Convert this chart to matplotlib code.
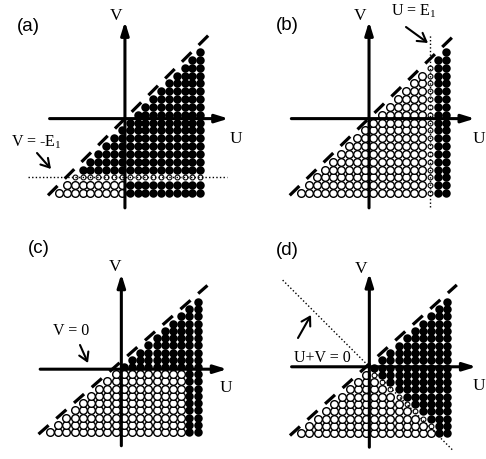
import numpy as np
import matplotlib
matplotlib.use("Agg")
import matplotlib.pyplot as plt

plt.rcParams['mathtext.fontset'] = 'custom'
plt.rcParams['mathtext.rm'] = 'Liberation Serif'
plt.rcParams['mathtext.it'] = 'Liberation Serif'

# lattice of states (column index i = U, row index j = V), kept where V <= U
n_sites = 19
row_minus_E1 = 2     # V = -E1 in panel (a)
col_E1 = 16          # U = E1 in panels (b), (c), (d)
row_zero = 9         # first row above V = 0 in panel (c)
diag_sum = 17        # U + V = 0 in panel (d)

panel_labels = ['(a)', '(b)', '(c)', '(d)']
line_labels = ['V = -E$_1$', 'U = E$_1$', 'V = 0', 'U+V = 0']

W, H = 486, 459
fig = plt.figure(figsize=(W / 100, H / 100), dpi=100)

# pixel geometry of each panel: box, lattice origin / spacing, axis crossing
geom = [
    dict(box=(0, 0, 243, 230), x0=59, dx=7.85, y0=193, dy=7.83, cx=8.4, cy=9.5),
    dict(box=(243, 0, 243, 230), x0=301, dx=8.05, y0=193, dy=7.83, cx=8.45, cy=9.5),
    dict(box=(0, 230, 243, 229), x0=50, dx=8.2, y0=432, dy=7.22, cx=8.7, cy=8.7),
    dict(box=(243, 230, 243, 229), x0=301.3, dx=8.1, y0=433.3, dy=7.31, cx=8.4, cy=9.1),
]

ii, jj = np.meshgrid(np.arange(n_sites), np.arange(n_sites))
keep = jj <= ii
ii, jj = ii[keep], jj[keep]

# 2 = filled, 1 = empty, 0 = on the dotted line
states = []
s = np.where((jj > row_minus_E1) | (ii > 8), 2, 1)
s[jj == row_minus_E1] = 0
states.append(s)
s = np.where(ii > col_E1, 2, 1)
s[ii == col_E1] = 0
states.append(s)
s = np.where((jj >= row_zero) | (ii > col_E1), 2, 1)
states.append(s)
s = np.where((ii + jj > diag_sum) | (ii > col_E1), 2, 1)
s[(ii + jj == diag_sum) & (ii <= col_E1)] = 0
states.append(s)

serif = dict(family='Liberation Serif', fontsize=12.5)
eqfont = dict(family='Liberation Serif', fontsize=11.5)
sans = dict(family='Liberation Sans', fontsize=13.5)

# text / arrow positions in pixels
texts = [
    dict(lab=(17, 26.5), V=(116, 20), U=(236, 143), eq=(11, 147), arr=((37, 153), (51, 169))),
    dict(lab=(276, 26), V=(360, 20), U=(479, 143), eq=(391, 16), arr=((406, 27), (428, 43))),
    dict(lab=(28, 248.5), V=(115, 271), U=(226, 392), eq=(53, 335), arr=((80, 345), (88, 363))),
    dict(lab=(276, 250.5), V=(361, 273), U=(479, 390), eq=(294, 362), arr=((298, 338), (311, 315))),
]

for k, g in enumerate(geom):
    L, T, w, h = g['box']
    ax = fig.add_axes([L / W, 1 - (T + h) / H, w / W, h / H])
    ax.set_xlim((L - g['x0']) / g['dx'], (L + w - g['x0']) / g['dx'])
    ax.set_ylim((g['y0'] - (T + h)) / g['dy'], (g['y0'] - T) / g['dy'])
    ax.axis('off')

    def px(p):
        return ((p[0] - g['x0']) / g['dx'], (g['y0'] - p[1]) / g['dy'])

    st = states[k]
    ax.plot(ii[st == 2], jj[st == 2], 'o', ms=6.1, color='k', mew=0, zorder=2)
    ax.plot(ii[st == 1], jj[st == 1], 'o', ms=5.5, mfc='white', mec='k', mew=1.0, zorder=2)
    ax.plot(ii[st == 0], jj[st == 0], 'o', ms=3.5, mfc='white', mec='k', mew=0.8, zorder=3)

    # dashed boundary along the diagonal
    t = np.array([-1.4, 19.2])
    ax.plot(t, t + 1.1, color='k', lw=2.3, ls=(0, (4.2, 3.2)), dash_capstyle='butt', zorder=3)

    # axes with arrows
    cx, cy = g['cx'], g['cy']
    ap = dict(arrowstyle='-|>,head_length=0.55,head_width=0.17', lw=2.2, color='k',
              shrinkA=0, shrinkB=0, mutation_scale=14)
    ax.annotate('', xy=(21.6, cy), xytext=(-1.2, cy), arrowprops=ap, zorder=4)
    ax.annotate('', xy=(cx, 21.9), xytext=(cx, -1.9), arrowprops=ap, zorder=4)

    # dotted guide lines
    dot = dict(color='k', lw=1.0, ls=(0, (1, 1.6)), zorder=4)
    if k == 0:
        ax.plot([-3.9, 21.4], [row_minus_E1, row_minus_E1], **dot)
    elif k == 1:
        ax.plot([col_E1, col_E1], [-1.8, 20.2], **dot)
    elif k == 3:
        slope = g['dx'] / g['dy']
        u = np.array([-2.3, 18.7])
        ax.plot(u, cy - slope * (u - cx), **dot)

    tx = texts[k]
    ax.text(*px(tx['lab']), panel_labels[k], ha='left', va='center', **sans)
    ax.text(*px(tx['V']), 'V', ha='center', va='baseline', **serif)
    ax.text(*px(tx['U']), 'U', ha='center', va='baseline', **serif)
    ax.text(*px(tx['eq']), line_labels[k], ha='left', va='baseline', **eqfont)
    a0, a1 = tx['arr']
    ax.annotate('', xy=px(a1), xytext=px(a0),
                arrowprops=dict(arrowstyle='->,head_length=0.5,head_width=0.3', lw=1.5,
                                color='k', shrinkA=0, shrinkB=0, mutation_scale=12))

fig.savefig('out.png', dpi=100)
